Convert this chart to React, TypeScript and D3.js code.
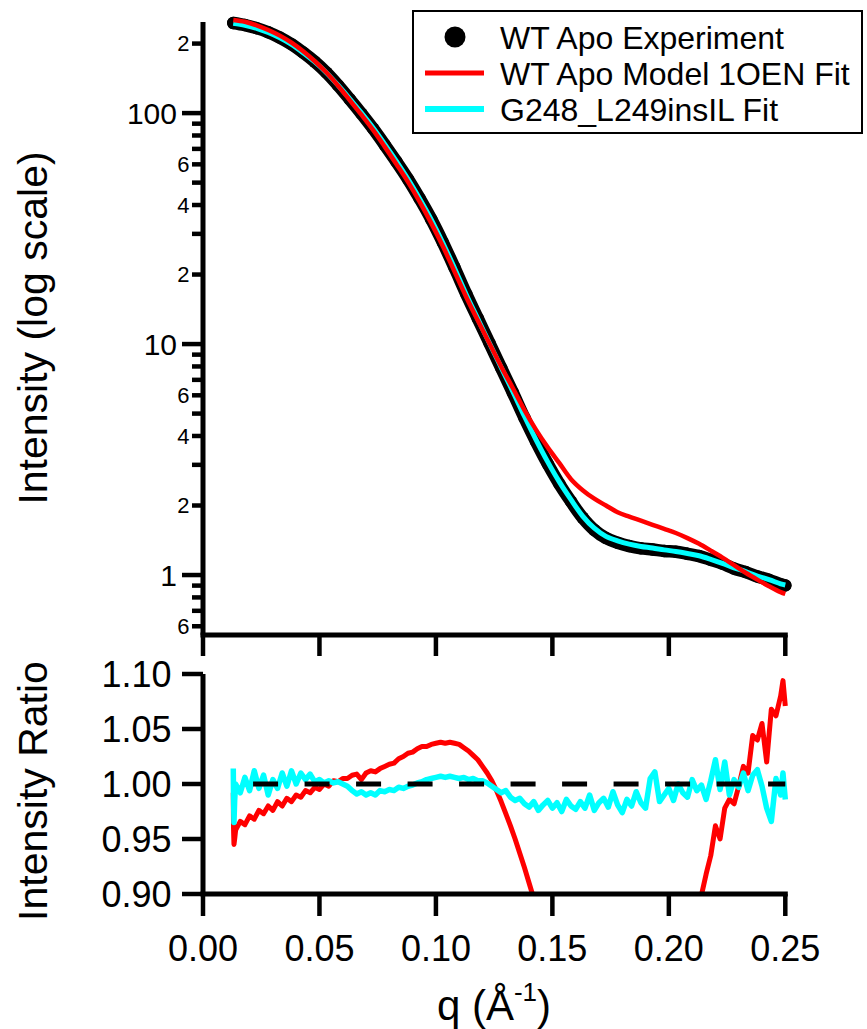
import React from "react";
import * as d3 from "d3";

// ---------- data ----------
const qFit = [
  0.013, 0.018, 0.023, 0.028, 0.033, 0.038, 0.043, 0.048, 0.053, 0.058,
  0.063, 0.068, 0.073, 0.078, 0.083, 0.088, 0.093, 0.098, 0.103, 0.108,
  0.113, 0.118, 0.123, 0.128, 0.133, 0.138, 0.143, 0.148, 0.153, 0.158,
  0.163, 0.168, 0.173, 0.178, 0.183, 0.188, 0.193, 0.198, 0.203, 0.208,
  0.213, 0.218, 0.223, 0.228, 0.233, 0.238, 0.243, 0.248, 0.25,
];
const expIntensity = [
  245.5, 240.4, 233.3, 223.9, 212.3, 198.6, 182.8, 166.7, 149.6, 131.8,
  114.8, 99.5, 85.7, 72.9, 61.7, 51.8, 42.7, 34.7, 27.5, 21.4,
  16.5, 12.9, 10.1, 7.89, 6.17, 4.79, 3.78, 3.03, 2.48, 2.08,
  1.77, 1.567, 1.445, 1.38, 1.335, 1.305, 1.29, 1.27, 1.262, 1.236,
  1.208, 1.164, 1.12, 1.067, 1.03, 0.986, 0.953, 0.912, 0.902,
];
const model1OENFit = [
  253, 248.5, 240, 229, 216.5, 201.8, 185.2, 167.7, 149.8, 131.4,
  113.8, 98.4, 84.6, 71.6, 60.2, 50.4, 41.4, 33.4, 26.5, 20.6,
  16.0, 12.65, 10.05, 8.0, 6.45, 5.18, 4.25, 3.57, 3.05, 2.6,
  2.33, 2.14, 2.0, 1.87, 1.79, 1.72, 1.65, 1.585, 1.52, 1.445,
  1.365, 1.276, 1.19, 1.104, 1.023, 0.955, 0.895, 0.843, 0.828,
];
const insILFit = [
  245.0, 240.0, 233.0, 223.5, 211.8, 198.4, 182.5, 166.5, 149.6, 132.0,
  115.4, 100.2, 86.4, 73.4, 62.0, 51.8, 42.6, 34.6, 27.4, 21.3,
  16.4, 12.85, 10.08, 7.93, 6.24, 4.87, 3.85, 3.09, 2.53, 2.12,
  1.8, 1.595, 1.47, 1.405, 1.36, 1.33, 1.31, 1.285, 1.265, 1.24,
  1.212, 1.17, 1.124, 1.075, 1.035, 0.99, 0.955, 0.916, 0.905,
];

const qRatio = [
  0.013, 0.0131, 0.0133, 0.0136, 0.014,
  0.016, 0.018, 0.02, 0.022, 0.024, 0.026, 0.028, 0.03, 0.032, 0.034,
  0.036, 0.038, 0.04, 0.042, 0.044, 0.046, 0.048, 0.05, 0.052, 0.054,
  0.056, 0.058, 0.06, 0.062, 0.064, 0.066, 0.068, 0.07, 0.072, 0.074,
  0.076, 0.078, 0.08, 0.082, 0.084, 0.086, 0.088, 0.09, 0.092, 0.094,
  0.096, 0.098, 0.1, 0.102, 0.104, 0.106, 0.108, 0.11, 0.112, 0.114,
  0.116, 0.118, 0.12, 0.122, 0.124, 0.126, 0.128, 0.13, 0.132, 0.134,
  0.136, 0.138, 0.14, 0.142, 0.144, 0.146, 0.148, 0.15, 0.152, 0.154,
  0.156, 0.158, 0.16, 0.162, 0.164, 0.166, 0.168, 0.17, 0.172, 0.174,
  0.176, 0.178, 0.18, 0.182, 0.184, 0.186, 0.188, 0.19, 0.192, 0.194,
  0.196, 0.198, 0.2, 0.202, 0.204, 0.206, 0.208, 0.21, 0.212, 0.214,
  0.216, 0.218, 0.22, 0.222, 0.224, 0.226, 0.228, 0.23, 0.232, 0.234,
  0.236, 0.238, 0.24, 0.242, 0.244, 0.246, 0.248, 0.249, 0.25,
];
const ratio1OEN = [
  0.992, 0.96, 0.945, 0.95, 0.958,
  0.966, 0.963, 0.971, 0.968, 0.976, 0.973, 0.98, 0.976, 0.984, 0.98,
  0.987, 0.984, 0.99, 0.988, 0.994, 0.992, 0.997, 0.995, 1.0, 0.998,
  1.003, 1.002, 1.005, 1.005, 1.008, 1.009, 1.004, 1.01, 1.012, 1.011,
  1.014, 1.016, 1.018, 1.019, 1.023, 1.025, 1.028, 1.029, 1.032, 1.034,
  1.034, 1.036, 1.037, 1.038, 1.037, 1.038, 1.037, 1.036, 1.033, 1.03,
  1.026, 1.022, 1.016, 1.01, 1.003, 0.994, 0.984, 0.973, 0.962, 0.95,
  0.937, 0.924, 0.91, 0.896, 0.882, 0.868, 0.85, 0.832, 0.815, 0.8,
  0.785, 0.772, 0.76, 0.75, 0.741, 0.733, 0.727, 0.722, 0.719, 0.718,
  0.719, 0.722, 0.727, 0.734, 0.742, 0.751, 0.761, 0.772, 0.784, 0.796,
  0.808, 0.82, 0.832, 0.844, 0.855, 0.866, 0.876, 0.885, 0.892, 0.899,
  0.918, 0.935, 0.962, 0.95, 0.978, 0.986, 0.982, 0.998, 1.016, 1.01,
  1.044, 1.04, 1.055, 1.02, 1.068, 1.062, 1.08, 1.094, 1.071,
];
const ratioInsIL = [
  1.014, 0.99, 0.965, 0.985, 1.0,
  0.992, 1.006, 0.994, 1.012, 0.996, 1.008, 0.99, 1.004, 0.996, 1.01,
  0.998, 1.012, 1.0, 1.01, 1.004, 1.009, 1.002, 1.004, 1.001, 1.003,
  1.001, 1.002, 1.0, 0.998, 0.994, 0.991, 0.993, 0.99, 0.992, 0.99,
  0.994, 0.993, 0.995, 0.994, 0.997, 0.996, 0.998, 0.999, 1.001, 1.002,
  1.004, 1.005, 1.006, 1.007, 1.006, 1.007, 1.006, 1.005, 1.006, 1.004,
  1.005, 1.003, 1.003, 1.001, 0.998, 0.995, 0.992, 0.994, 0.988, 0.985,
  0.987, 0.982, 0.979, 0.984, 0.976, 0.981, 0.985, 0.978, 0.983, 0.975,
  0.986, 0.98, 0.977, 0.984, 0.978, 0.99, 0.976, 0.983, 0.987, 0.979,
  0.993, 0.981, 0.974, 0.986, 0.98, 0.993, 0.983, 0.978, 1.005, 1.011,
  0.984, 0.99, 0.996, 0.985, 1.0, 0.992, 0.988, 1.004, 0.994, 0.999,
  0.986, 1.003, 1.022, 0.995, 1.02, 0.99, 1.004, 0.997, 1.01, 0.994,
  1.008, 1.013, 0.998, 0.978, 0.966, 1.005, 0.99, 1.01, 0.986,
];
const refQ = [0.0215, 0.25];
const refRatio = [1.0, 1.0];

const xTicks = [0, 0.05, 0.1, 0.15, 0.2, 0.25];
const xTickLabels = ["0.00", "0.05", "0.10", "0.15", "0.20", "0.25"];
const ratioTicks = [0.9, 0.95, 1.0, 1.05, 1.1];
const ratioTickLabels = ["0.90", "0.95", "1.00", "1.05", "1.10"];
const majorLogTicks = [1, 10, 100];
const majorLogLabels = ["1", "10", "100"];
const minorLogTicks = [
  0.6, 0.7, 0.8, 0.9, 2, 3, 4, 5, 6, 7, 8, 9, 20, 30, 40, 50, 60, 70, 80, 90, 200,
];
const minorLogLabelled = [0.6, 2, 4, 6, 20, 40, 60, 200];
const minorLogLabels = ["6", "2", "4", "6", "2", "4", "6", "2"];

const legendLabels = [
  "WT Apo Experiment",
  "WT Apo Model 1OEN Fit",
  "G248_L249insIL Fit",
];
const RED = "#ff0000";
const CYAN = "#00ffff";

// ---------- layout ----------
const W = 867;
const H = 1029;
const FONT = "'Liberation Sans', Arial, Helvetica, sans-serif";

const x = d3.scaleLinear().domain([0, 0.25]).range([203, 785.3]);
const yTop = d3.scaleLog().domain([0.55, 248]).range([635, 22]);
const yBot = d3.scaleLinear().domain([0.9, 1.1]).range([894, 674]);

type P = [number, number];
const zip = (a: number[], b: number[]): P[] => a.map((v, i) => [v, b[i]]);

export default function App() {
  const topLine = d3
    .line<P>()
    .x((d) => x(d[0]))
    .y((d) => yTop(d[1]))
    .curve(d3.curveCatmullRom.alpha(0.5));
  const botLine = d3
    .line<P>()
    .x((d) => x(d[0]))
    .y((d) => yBot(d[1]));

  const expPts = zip(qFit, expIntensity);
  const redPts = zip(qFit, model1OENFit);
  const cyanPts = zip(qFit, insILFit);
  const redRatio = zip(qRatio, ratio1OEN);
  const cyanRatio = zip(qRatio, ratioInsIL);
  const ref = zip(refQ, refRatio);

  const axisW = 5;
  const tickW = 4.5;

  return (
    <svg
      width={W}
      height={H}
      viewBox={`0 0 ${W} ${H}`}
      style={{ position: "absolute", left: 0, top: 0, background: "#fff" }}
      fontFamily={FONT}
    >
      <rect x={0} y={0} width={W} height={H} fill="#fff" />
      <defs>
        <clipPath id="botClip">
          <rect x={203} y={650} width={590} height={244} />
        </clipPath>
      </defs>

      {/* ---------- top panel ---------- */}
      <g>
        <path
          d={topLine(expPts) || ""}
          fill="none"
          stroke="#000"
          strokeWidth={12.5}
          strokeLinecap="round"
          strokeLinejoin="round"
        />
        {expPts.map((d, i) => (
          <circle key={i} cx={x(d[0])} cy={yTop(d[1])} r={6.25} fill="#000" />
        ))}
        <path d={topLine(cyanPts) || ""} fill="none" stroke={CYAN} strokeWidth={5} />
        <path d={topLine(redPts) || ""} fill="none" stroke={RED} strokeWidth={4.5} />

        {/* axes */}
        <line x1={203} y1={22} x2={203} y2={635} stroke="#000" strokeWidth={axisW} />
        <line x1={200.5} y1={635} x2={787.8} y2={635} stroke="#000" strokeWidth={axisW} />
        {xTicks.map((t) => (
          <line key={t} x1={x(t)} x2={x(t)} y1={635} y2={656} stroke="#000" strokeWidth={tickW} />
        ))}
        {majorLogTicks.map((t, i) => (
          <g key={t}>
            <line x1={182} x2={203} y1={yTop(t)} y2={yTop(t)} stroke="#000" strokeWidth={tickW} />
            <text
              x={177}
              y={yTop(t)}
              dy="0.36em"
              textAnchor="end"
              fontSize={30}
              fill="#000"
            >
              {majorLogLabels[i]}
            </text>
          </g>
        ))}
        {minorLogTicks.map((t) => (
          <line key={t} x1={192} x2={203} y1={yTop(t)} y2={yTop(t)} stroke="#000" strokeWidth={tickW} />
        ))}
        {minorLogLabelled.map((t, i) => (
          <text
            key={t}
            x={189.5}
            y={yTop(t)}
            dy="0.36em"
            textAnchor="end"
            fontSize={22}
            fill="#000"
          >
            {minorLogLabels[i]}
          </text>
        ))}
        <text
          transform="translate(47,328) rotate(-90)"
          textAnchor="middle"
          fontSize={41}
          fill="#000"
        >
          Intensity (log scale)
        </text>
      </g>

      {/* ---------- legend ---------- */}
      <g>
        <rect x={413} y={11} width={449} height={122} fill="#fff" stroke="#000" strokeWidth={2} />
        <circle cx={455} cy={37} r={10.5} fill="#000" />
        <line x1={425} x2={484} y1={73} y2={73} stroke={RED} strokeWidth={5} />
        <line x1={425} x2={484} y1={109} y2={109} stroke={CYAN} strokeWidth={6} />
        {legendLabels.map((s, i) => (
          <text key={s} x={500} y={37 + i * 36} dy="0.36em" fontSize={32} fill="#000">
            {s}
          </text>
        ))}
      </g>

      {/* ---------- bottom panel ---------- */}
      <g clipPath="url(#botClip)">
        <path d={botLine(redRatio) || ""} fill="none" stroke={RED} strokeWidth={5} strokeLinejoin="round" />
        <path d={botLine(cyanRatio) || ""} fill="none" stroke={CYAN} strokeWidth={5.5} strokeLinejoin="round" />
        <path
          d={botLine(ref) || ""}
          fill="none"
          stroke="#000"
          strokeWidth={5}
          strokeDasharray="25 26.5"
        />
      </g>
      <g>
        <line x1={203} y1={674} x2={203} y2={894} stroke="#000" strokeWidth={axisW} />
        <line x1={200.5} y1={894} x2={787.8} y2={894} stroke="#000" strokeWidth={axisW} />
        {ratioTicks.map((t, i) => (
          <g key={t}>
            <line x1={182} x2={203} y1={yBot(t)} y2={yBot(t)} stroke="#000" strokeWidth={tickW} />
            <text
              x={171.5}
              y={yBot(t)}
              dy="0.36em"
              textAnchor="end"
              fontSize={36}
              fill="#000"
            >
              {ratioTickLabels[i]}
            </text>
          </g>
        ))}
        {xTicks.map((t, i) => (
          <g key={t}>
            <line x1={x(t)} x2={x(t)} y1={894} y2={916} stroke="#000" strokeWidth={tickW} />
            <text x={x(t)} y={961} textAnchor="middle" fontSize={36} fill="#000">
              {xTickLabels[i]}
            </text>
          </g>
        ))}
        <text
          transform="translate(47,791) rotate(-90)"
          textAnchor="middle"
          fontSize={41}
          fill="#000"
        >
          Intensity Ratio
        </text>
        <text x={494} y={1020} textAnchor="middle" fontSize={42} fill="#000">
          q (Å
          <tspan dy={-19} fontSize={26}>
            -1
          </tspan>
          <tspan dy={19}>)</tspan>
        </text>
      </g>
    </svg>
  );
}
